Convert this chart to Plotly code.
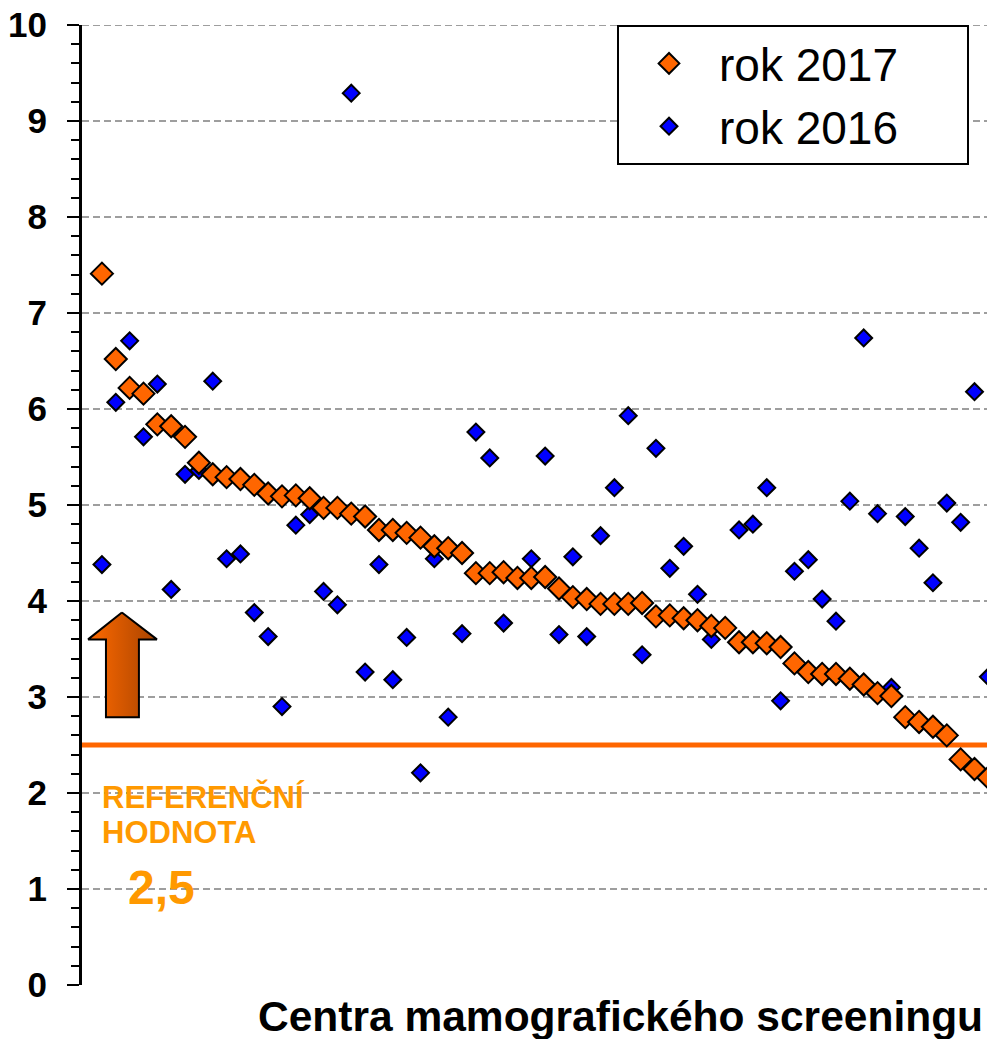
import plotly.graph_objects as go

# hodnoty pro jednotliva centra, serazeno podle roku 2017
rok_2017 = [7.41, 6.52, 6.22, 6.16, 5.84, 5.82, 5.71, 5.44, 5.32, 5.29,
            5.27, 5.21, 5.12, 5.09, 5.10, 5.07, 4.97, 4.97, 4.91, 4.88,
            4.74, 4.74, 4.71, 4.66, 4.57, 4.55, 4.50, 4.29, 4.29, 4.30,
            4.24, 4.24, 4.25, 4.13, 4.04, 4.02, 3.97, 3.97, 3.97, 3.98,
            3.84, 3.85, 3.82, 3.80, 3.74, 3.72, 3.57, 3.57, 3.56, 3.52,
            3.35, 3.26, 3.24, 3.24, 3.19, 3.13, 3.04, 3.01, 2.79, 2.74,
            2.69, 2.60, 2.35, 2.25, 2.16]

rok_2016 = [4.38, 6.07, 6.71, 5.71, 6.26, 4.12, 5.32, 5.36, 6.29, 4.44,
            4.49, 3.88, 3.63, 2.90, 4.79, 4.90, 4.10, 3.96, 9.29, 3.26,
            4.38, 3.18, 3.62, 2.21, 4.44, 2.79, 3.66, 5.76, 5.49, 3.77,
            None, 4.44, 5.51, 3.65, 4.46, 3.63, 4.68, 5.18, 5.93, 3.44,
            5.59, 4.34, 4.57, 4.07, 3.60, None, 4.74, 4.80, 5.18, 2.96,
            4.31, 4.43, 4.02, 3.79, 5.04, 6.74, 4.91, 3.10, 4.88, 4.55,
            4.19, 5.02, 4.82, 6.18, 3.21]

centra = list(range(len(rok_2017)))
referencni_hodnota = 2.5
y_ticks = list(range(0, 11))

FONT = "Liberation Sans, Arial, sans-serif"
ORANGE = "#FF6600"
LABEL_ORANGE = "#FF9900"
GRID = "#9E9E9E"
PAD = "\u00a0" * 5

fig = go.Figure()

# sipka nahoru (dekorace s prechodem barvy)
arrow_x = [1.44, 3.97, 2.67, 2.67, 0.29, 0.29, -1.0, 1.44]
arrow_y = [3.88, 3.60, 3.60, 2.79, 2.79, 3.60, 3.60, 3.88]
fig.add_trace(go.Scatter(x=arrow_x, y=arrow_y, mode="lines", fill="toself",
                         fillgradient=dict(type="horizontal",
                                           colorscale=[[0, "#FF6A00"], [1, "#A84300"]]),
                         line=dict(color="black", width=2),
                         showlegend=False, hoverinfo="skip"))

fig.add_trace(go.Scatter(x=centra, y=rok_2016, mode="markers",
                         name="rok 2016" + PAD,
                         marker=dict(symbol="diamond", size=13, color="#0000FF",
                                     line=dict(color="black", width=2)),
                         legendrank=2))

fig.add_trace(go.Scatter(x=centra, y=rok_2017, mode="markers",
                         name="rok 2017" + PAD,
                         marker=dict(symbol="diamond", size=17, color=ORANGE,
                                     line=dict(color="black", width=2)),
                         legendrank=1))

fig.add_shape(type="line", xref="paper", x0=0, x1=1,
              y0=referencni_hodnota, y1=referencni_hodnota,
              line=dict(color=ORANGE, width=5), layer="below")

# horni mrizka na 10 (plotly ji na okraji nekresli)
fig.add_shape(type="line", xref="paper", x0=0, x1=1, y0=10, y1=10,
              line=dict(color=GRID, width=2, dash="7px,4px"), layer="below")

fig.add_annotation(xref="paper", x=0.0197, y=1.96, text="<b>REFERENČNÍ</b>",
                   showarrow=False, xanchor="left", yanchor="middle",
                   font=dict(family=FONT, size=31, color=LABEL_ORANGE))
fig.add_annotation(xref="paper", x=0.0197, y=1.59, text="<b>HODNOTA</b>",
                   showarrow=False, xanchor="left", yanchor="middle",
                   font=dict(family=FONT, size=31, color=LABEL_ORANGE))
fig.add_annotation(xref="paper", x=0.0876, y=1.02,
                   text="<b>" + str(referencni_hodnota).replace(".", ",") + "</b>",
                   showarrow=False, xanchor="center", yanchor="middle",
                   font=dict(family=FONT, size=48, color=LABEL_ORANGE))

fig.add_annotation(xref="paper", yref="paper", x=0.989, y=-0.033,
                   text="<b>Centra mamografického screeningu</b>",
                   showarrow=False, xanchor="right", yanchor="middle",
                   font=dict(family=FONT, size=42.5, color="black"))

fig.update_xaxes(range=[-1.44, 64.48], showgrid=False, zeroline=False,
                 showticklabels=False, ticks="", showline=False, automargin=False)
fig.update_yaxes(range=[0, 10], tickvals=y_ticks, ticks="outside", ticklen=12,
                 tickwidth=2, tickcolor="black", showline=True, linecolor="black",
                 linewidth=3, zeroline=False, showgrid=True, gridcolor=GRID,
                 gridwidth=2, griddash="7px,4px", ticklabelstandoff=13,
                 ticklabeloverflow="allow", automargin=False,
                 tickfont=dict(family=FONT, size=35, color="black", weight="bold"),
                 minor=dict(dtick=0.2, ticks="outside", ticklen=8, tickwidth=2,
                            tickcolor="black", showgrid=False))

# stranka ma okraj 8 px, proto je obrazek o 8 px mensi
fig.update_layout(width=987, height=1031,
                  margin=dict(l=74, r=0, t=17, b=54),
                  plot_bgcolor="white", paper_bgcolor="white",
                  font=dict(family=FONT, color="black"),
                  showlegend=True,
                  legend=dict(x=0.586, y=1, xanchor="left", yanchor="top",
                              bgcolor="white", bordercolor="black", borderwidth=2,
                              font=dict(family=FONT, size=46, color="black"),
                              itemwidth=90, tracegroupgap=0))

fig.write_html("out.html")
